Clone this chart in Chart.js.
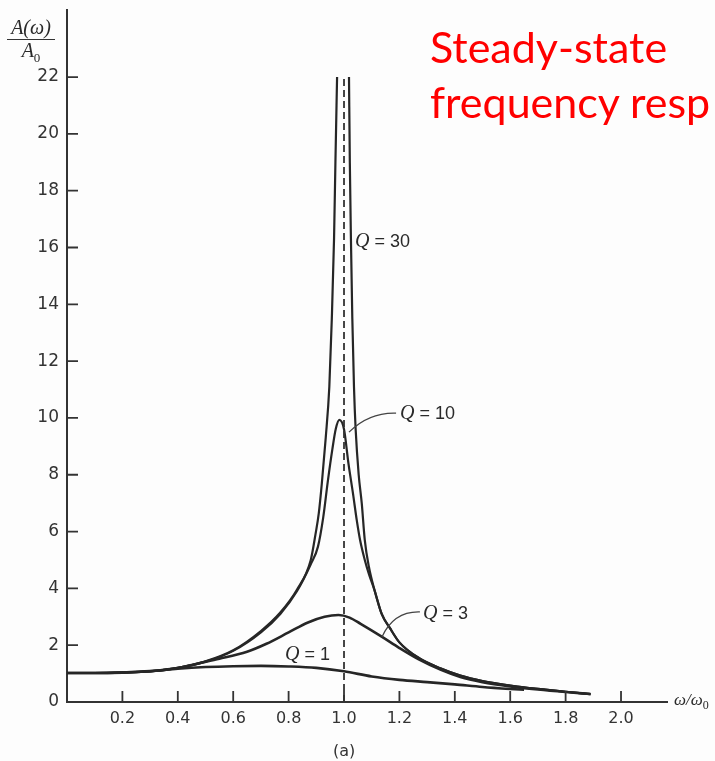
<!DOCTYPE html>
<html>
<head>
<meta charset="utf-8">
<script src="https://cdn.jsdelivr.net/npm/chart.js@4.4.0/dist/chart.umd.min.js"></script>
<style>
  body { margin: 0; background: #fdfdfd; }
  #wrap { position: relative; width: 715px; height: 761px; overflow: hidden; }
  #title { position: absolute; left: 430px; top: 19px; color: #ff0000; font: 43px Lato; line-height: 55px; white-space: nowrap; }
  #ylab { position: absolute; left: 7px; top: 17px; width: 48px; text-align: center; font: italic 20px 'Liberation Serif'; color: #2a2a2a; line-height: 21px; }
  #ylab .num { border-bottom: 1.5px solid #333; padding-bottom: 1px; }
  #xlab { position: absolute; left: 674px; top: 690px; font: italic 17px 'Liberation Serif'; color: #2a2a2a; }
  #cap { position: absolute; left: 333px; top: 741px; font: 16px 'DejaVu Sans'; color: #333; }
</style>
</head>
<body>
<div id="wrap">
  <canvas id="myChart" width="715" height="761"></canvas>
  <div id="title">Steady-state<br>frequency resp</div>
  <div id="ylab"><div class="num">A(ω)</div><div>A<sub style="font-style:normal;font-size:13px">0</sub></div></div>
  <div id="xlab">ω/ω<sub style="font-style:normal;font-size:12px">0</sub></div>
  <div id="cap">(a)</div>
</div>
<script>
// values (A/A0 against w/w0)
var xQ1 = [0, 0.1, 0.2, 0.3, 0.4, 0.5, 0.6, 0.7, 0.8, 0.9, 1.0, 1.1, 1.2, 1.3, 1.4, 1.5, 1.6, 1.65];
var yQ1 = [1.02, 1.02, 1.03, 1.08, 1.17, 1.23, 1.26, 1.27, 1.25, 1.2, 1.08, 0.9, 0.78, 0.7, 0.62, 0.53, 0.46, 0.43];

var xQ3 = [0, 0.1, 0.2, 0.3, 0.4, 0.48, 0.55, 0.65, 0.72, 0.8, 0.87, 0.93, 0.98, 1.02, 1.06, 1.136, 1.2, 1.27, 1.35, 1.42, 1.5, 1.6, 1.7, 1.8, 1.89];
var yQ3 = [1.02, 1.02, 1.04, 1.09, 1.2, 1.37, 1.52, 1.77, 2.05, 2.45, 2.8, 3.0, 3.06, 2.97, 2.75, 2.3, 1.9, 1.5, 1.13, 0.88, 0.7, 0.55, 0.44, 0.35, 0.28];

var xQ10 = [0, 0.1, 0.2, 0.3, 0.4, 0.5, 0.6, 0.7, 0.77, 0.83, 0.88, 0.906, 0.925, 0.942, 0.958, 0.97, 0.983, 1.0, 1.016, 1.033, 1.046, 1.058, 1.075, 1.09, 1.11, 1.136, 1.166, 1.2, 1.27, 1.35, 1.42, 1.5, 1.6, 1.7, 1.8, 1.89];
var yQ10 = [1.02, 1.02, 1.04, 1.08, 1.2, 1.42, 1.8, 2.45, 3.1, 3.9, 4.85, 5.47, 6.5, 7.8, 8.9, 9.6, 9.93, 9.6, 8.4, 7.3, 6.4, 5.7, 5.0, 4.5, 3.94, 3.1, 2.6, 2.1, 1.55, 1.18, 0.93, 0.74, 0.58, 0.46, 0.36, 0.28];

// Q = 30 runs off the top at 22, so the two sides are split by a gap
var xQ30 = [0, 0.1, 0.2, 0.3, 0.4, 0.5, 0.6, 0.7, 0.77, 0.83, 0.88, 0.897, 0.909, 0.92, 0.934, 0.947, 0.956, 0.964, 0.969, 0.975, 1.0, 1.018, 1.021, 1.025, 1.03, 1.036, 1.042, 1.053, 1.064, 1.075, 1.09, 1.11, 1.136, 1.166, 1.2, 1.27, 1.35, 1.42, 1.5, 1.6, 1.7, 1.8, 1.89];
var yQ30 = [1.02, 1.02, 1.04, 1.08, 1.2, 1.43, 1.82, 2.5, 3.15, 3.95, 5.0, 5.9, 6.65, 7.7, 9.3, 11.1, 13.5, 16.3, 19.0, 22, null, 22, 19.0, 16.3, 13.5, 11.1, 9.6, 8.0, 7.0, 5.7, 4.75, 3.94, 3.1, 2.6, 2.1, 1.55, 1.18, 0.93, 0.74, 0.58, 0.46, 0.36, 0.28];

var xRes = [1.0, 1.0];
var yRes = [0, 22];

var yTicks = [0, 2, 4, 6, 8, 10, 12, 14, 16, 18, 20, 22];
var xTicks = [0.2, 0.4, 0.6, 0.8, 1.0, 1.2, 1.4, 1.6, 1.8, 2.0];

var ink = '#262626';

function toPoints(xs, ys) {
    var pts = [];
    for (var i = 0; i < xs.length; i++) {
        pts.push({x: xs[i], y: ys[i]});
    }
    return pts;
}

function curve(xs, ys, w) {
    return {
        data: toPoints(xs, ys),
        showLine: true,
        borderColor: ink,
        borderWidth: w,
        pointRadius: 0,
        cubicInterpolationMode: 'monotone',
        spanGaps: false
    };
}

//tick marks point into the plot, plus the Q labels and their leaders
var extras = {
    id: 'extras',
    afterDraw: function(chart) {
        var ctx = chart.ctx;
        var sx = chart.scales.x, sy = chart.scales.y;
        ctx.save();
        ctx.strokeStyle = '#333';
        ctx.lineWidth = 1.8;
        ctx.beginPath();
        yTicks.forEach(function(v) {
            if (v === 0) return;
            var py = sy.getPixelForValue(v);
            ctx.moveTo(sx.left, py);
            ctx.lineTo(sx.left + 11, py);
        });
        xTicks.forEach(function(v) {
            var px = sx.getPixelForValue(v);
            ctx.moveTo(px, sy.bottom);
            ctx.lineTo(px, sy.bottom - 11);
        });
        ctx.stroke();

        // leader lines from labels to curves
        ctx.strokeStyle = '#444';
        ctx.lineWidth = 1.3;
        leader(ctx, sx, sy, [1.188, 10.17], [1.09, 10.2], [1.018, 9.5]);
        leader(ctx, sx, sy, [1.274, 3.17], [1.18, 3.2], [1.137, 2.29]);

        qLabel(ctx, sx, sy, 1.04, 16.2, '30');
        qLabel(ctx, sx, sy, 1.202, 10.14, '10');
        qLabel(ctx, sx, sy, 1.285, 3.1, '3');
        qLabel(ctx, sx, sy, 0.787, 1.65, '1');
        ctx.restore();
    }
};

function leader(ctx, sx, sy, a, c, b) {
    ctx.beginPath();
    ctx.moveTo(sx.getPixelForValue(a[0]), sy.getPixelForValue(a[1]));
    ctx.quadraticCurveTo(sx.getPixelForValue(c[0]), sy.getPixelForValue(c[1]),
        sx.getPixelForValue(b[0]), sy.getPixelForValue(b[1]));
    ctx.stroke();
}

function qLabel(ctx, sx, sy, x, y, txt) {
    var px = sx.getPixelForValue(x);
    var py = sy.getPixelForValue(y);
    ctx.fillStyle = '#2a2a2a';
    ctx.textBaseline = 'middle';
    ctx.textAlign = 'left';
    ctx.font = 'italic 20px "Liberation Serif"';
    ctx.fillText('Q', px, py);
    var w = ctx.measureText('Q').width;
    ctx.font = '18px "Liberation Sans"';
    ctx.fillText(' = ' + txt, px + w, py);
}

var ctx = document.getElementById('myChart').getContext('2d');
var myChart = new Chart(ctx, {
    type: 'scatter',
    data: {
        datasets: [
            {
                data: toPoints(xRes, yRes),
                showLine: true,
                borderColor: '#333',
                borderWidth: 1.8,
                borderDash: [7, 4],
                pointRadius: 0
            },
            curve(xQ1, yQ1, 2.6),
            curve(xQ3, yQ3, 2.6),
            curve(xQ10, yQ10, 2.2),
            curve(xQ30, yQ30, 2.2)
        ]
    },
    options: {
        responsive: false,
        animation: false,
        layout: { padding: { left: 0, right: 48, top: 10, bottom: 0 } },
        plugins: { legend: { display: false }, tooltip: { enabled: false } },
        scales: {
            x: {
                type: 'linear',
                min: 0,
                max: 2.166,
                afterFit: function(s) { s.height = 59; s.paddingLeft = 0; s.paddingRight = 0; },
                afterBuildTicks: function(s) { s.ticks = xTicks.map(function(v) { return {value: v}; }); },
                grid: { drawOnChartArea: false, drawTicks: false },
                border: { color: '#333', width: 2 },
                ticks: {
                    padding: 7,
                    color: '#333',
                    autoSkip: false,
                    maxRotation: 0,
                    font: { family: 'DejaVu Sans', size: 16 },
                    callback: function(v) { return Number(v).toFixed(1); }
                }
            },
            y: {
                type: 'linear',
                min: 0,
                max: 24.36,
                afterFit: function(s) { s.width = 67; s.paddingTop = 0; s.paddingBottom = 0; },
                afterBuildTicks: function(s) { s.ticks = yTicks.map(function(v) { return {value: v}; }); },
                grid: { drawOnChartArea: false, drawTicks: false },
                border: { color: '#333', width: 2 },
                ticks: {
                    padding: 8,
                    color: '#333',
                    autoSkip: false,
                    font: { family: 'DejaVu Sans', size: 17 }
                }
            }
        }
    },
    plugins: [extras]
});
</script>
</body>
</html>
